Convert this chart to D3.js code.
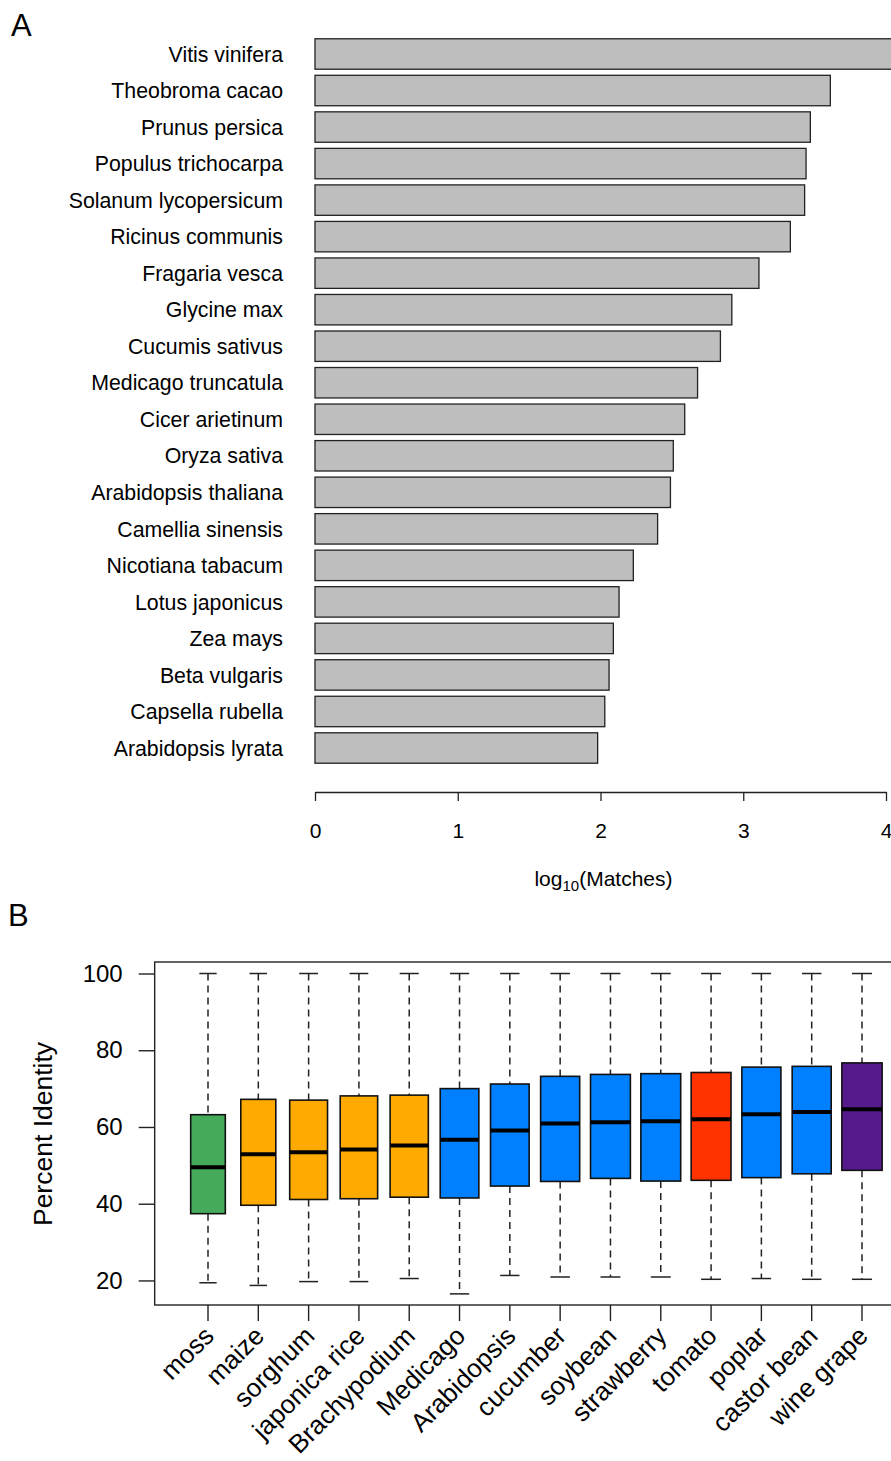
<!DOCTYPE html>
<html>
<head>
<meta charset="utf-8">
<script src="https://cdn.jsdelivr.net/npm/d3@7"></script>
<style>
  body { margin: 0; background: #fff; }
  text { font-family: "Liberation Sans", Arial, sans-serif; fill: #000; }
</style>
</head>
<body>
<div id="chart"></div>
<script>
// ---- panel A data: log10 of matches per species
const species = ["Vitis vinifera", "Theobroma cacao", "Prunus persica", "Populus trichocarpa",
  "Solanum lycopersicum", "Ricinus communis", "Fragaria vesca", "Glycine max", "Cucumis sativus",
  "Medicago truncatula", "Cicer arietinum", "Oryza sativa", "Arabidopsis thaliana",
  "Camellia sinensis", "Nicotiana tabacum", "Lotus japonicus", "Zea mays", "Beta vulgaris",
  "Capsella rubella", "Arabidopsis lyrata"];
const logMatches = [4.15, 3.61, 3.47, 3.44, 3.43, 3.33, 3.11, 2.92, 2.84, 2.68, 2.59, 2.51,
  2.49, 2.40, 2.23, 2.13, 2.09, 2.06, 2.03, 1.98];
const xTicksA = [0, 1, 2, 3, 4];

// ---- panel B data: percent identity boxplot stats
const plants = ["moss", "maize", "sorghum", "japonica rice", "Brachypodium", "Medicago",
  "Arabidopsis", "cucumber", "soybean", "strawberry", "tomato", "poplar", "castor bean", "wine grape"];
const groups = ["moss", "monocot", "monocot", "monocot", "monocot", "dicot", "dicot", "dicot",
  "dicot", "dicot", "tomato", "dicot", "dicot", "grape"];
const whiskerLow = [19.4, 18.7, 19.7, 19.7, 20.5, 16.5, 21.3, 20.9, 20.9, 20.9, 20.3, 20.5, 20.3, 20.3];
const q1 = [37.4, 39.6, 41.1, 41.3, 41.7, 41.5, 44.6, 45.8, 46.6, 45.9, 46.1, 46.8, 47.8, 48.7];
const median = [49.5, 52.9, 53.4, 54.1, 55.2, 56.7, 59.1, 60.9, 61.2, 61.5, 62.0, 63.3, 63.9, 64.6];
const q3 = [63.2, 67.2, 67.0, 68.1, 68.3, 70.0, 71.2, 73.2, 73.7, 73.9, 74.2, 75.6, 75.8, 76.7];
const whiskerHigh = [100, 100, 100, 100, 100, 100, 100, 100, 100, 100, 100, 100, 100, 100];
const relWidth = [0.86, 0.87, 0.94, 0.93, 0.95, 0.96, 0.96, 0.97, 0.99, 0.99, 0.99, 0.97, 0.97, 1.0];
const yTicksB = [20, 40, 60, 80, 100];

const groupColor = {
  moss: "#45aa5a", monocot: "#ffaa00", dicot: "#0080ff", tomato: "#ff3300", grape: "#551a8b"
};

const W = 891, H = 1461;
const svg = d3.select("#chart").append("svg")
  .attr("width", W).attr("height", H);

// ================= Panel A =================
const xA = d3.scaleLinear().domain([0, 4]).range([315, 886]);
const yA = d3.scalePoint().domain(species).range([54, 748]);
const barH = yA.step() / 1.2;

svg.append("text").attr("x", 11).attr("y", 36)
  .style("font-size", "31px").text("A");

const gA = svg.append("g");
gA.selectAll("rect.bar")
  .data(species)
  .join("rect")
  .attr("class", "bar")
  .attr("x", xA(0))
  .attr("y", d => yA(d) - barH / 2)
  .attr("width", (d, i) => xA(logMatches[i]) - xA(0))
  .attr("height", barH)
  .attr("fill", "#bebebe")
  .attr("stroke", "#222")
  .attr("stroke-width", 1.3);

gA.selectAll("text.sp")
  .data(species)
  .join("text")
  .attr("class", "sp")
  .attr("x", 283)
  .attr("y", d => yA(d))
  .attr("dy", "0.36em")
  .attr("text-anchor", "end")
  .style("font-size", "21.3px")
  .text(d => d);

const axA = gA.append("g")
  .attr("transform", "translate(0,792)")
  .call(d3.axisBottom(xA).tickValues(xTicksA).tickFormat(d3.format("d"))
    .tickSize(9).tickPadding(22).tickSizeOuter(0));
axA.select(".domain").attr("stroke", "#222").attr("stroke-width", 1.3);
axA.selectAll(".tick line").attr("stroke", "#222").attr("stroke-width", 1.3);
axA.selectAll(".tick text").style("font-size", "21px")
  .style("font-family", "Liberation Sans, Arial, sans-serif");

const titleA = gA.append("text")
  .attr("x", (xA(0) + xA(4)) / 2 + 3)
  .attr("y", 886)
  .attr("text-anchor", "middle")
  .style("font-size", "21px");
titleA.append("tspan").text("log");
titleA.append("tspan").attr("dy", 5).style("font-size", "15px").text("10");
titleA.append("tspan").attr("dy", -5).text("(Matches)");

// ================= Panel B =================
const xB = d3.scaleLinear().domain([1, plants.length]).range([208, 862]);
const yB = d3.scaleLinear().domain([13.6, 103]).range([1305, 962]);
const unit = xB(2) - xB(1);
const boxW = unit * 0.8;

svg.append("text").attr("x", 8).attr("y", 926)
  .style("font-size", "31px").text("B");

const gB = svg.append("g");

// frame (R box), right side runs off the page
gB.append("rect")
  .attr("x", xB(-0.06)).attr("y", yB(103))
  .attr("width", xB(plants.length + 1.06) - xB(-0.06))
  .attr("height", yB(13.6) - yB(103))
  .attr("fill", "none").attr("stroke", "#222").attr("stroke-width", 1.4);

const boxes = gB.selectAll("g.box")
  .data(plants)
  .join("g")
  .attr("class", "box")
  .attr("transform", (d, i) => `translate(${xB(i + 1)},0)`);

// whiskers
boxes.append("line")
  .attr("y1", (d, i) => yB(whiskerHigh[i])).attr("y2", (d, i) => yB(q3[i]))
  .attr("stroke", "#222").attr("stroke-width", 1.5).attr("stroke-dasharray", "7,5");
boxes.append("line")
  .attr("y1", (d, i) => yB(q1[i])).attr("y2", (d, i) => yB(whiskerLow[i]))
  .attr("stroke", "#222").attr("stroke-width", 1.5).attr("stroke-dasharray", "7,5");
// caps
boxes.append("line")
  .attr("x1", (d, i) => -boxW * relWidth[i] / 4).attr("x2", (d, i) => boxW * relWidth[i] / 4)
  .attr("y1", (d, i) => yB(whiskerHigh[i])).attr("y2", (d, i) => yB(whiskerHigh[i]))
  .attr("stroke", "#222").attr("stroke-width", 1.5);
boxes.append("line")
  .attr("x1", (d, i) => -boxW * relWidth[i] / 4).attr("x2", (d, i) => boxW * relWidth[i] / 4)
  .attr("y1", (d, i) => yB(whiskerLow[i])).attr("y2", (d, i) => yB(whiskerLow[i]))
  .attr("stroke", "#222").attr("stroke-width", 1.5);
// box
boxes.append("rect")
  .attr("x", (d, i) => -boxW * relWidth[i] / 2)
  .attr("width", (d, i) => boxW * relWidth[i])
  .attr("y", (d, i) => yB(q3[i]))
  .attr("height", (d, i) => yB(q1[i]) - yB(q3[i]))
  .attr("fill", (d, i) => groupColor[groups[i]])
  .attr("stroke", "#111").attr("stroke-width", 1.6);
// median
boxes.append("line")
  .attr("x1", (d, i) => -boxW * relWidth[i] / 2).attr("x2", (d, i) => boxW * relWidth[i] / 2)
  .attr("y1", (d, i) => yB(median[i])).attr("y2", (d, i) => yB(median[i]))
  .attr("stroke", "#000").attr("stroke-width", 4);

// y axis
const axB = gB.append("g")
  .attr("transform", `translate(${xB(-0.06)},0)`)
  .call(d3.axisLeft(yB).tickValues(yTicksB).tickSize(16).tickPadding(16).tickSizeOuter(0));
axB.select(".domain").remove();
axB.selectAll(".tick line").attr("stroke", "#222").attr("stroke-width", 1.4);
axB.selectAll(".tick text").style("font-size", "24px")
  .style("font-family", "Liberation Sans, Arial, sans-serif");

gB.append("text")
  .attr("transform", `translate(52,${yB(60) + 7}) rotate(-90)`)
  .attr("text-anchor", "middle")
  .style("font-size", "26.5px")
  .text("Percent Identity");

// x ticks + rotated labels
boxes.append("line")
  .attr("y1", yB(13.6)).attr("y2", yB(13.6) + 16)
  .attr("stroke", "#222").attr("stroke-width", 1.4);
boxes.append("text")
  .attr("transform", `translate(1,${yB(13.6) + 26}) rotate(-45)`)
  .attr("text-anchor", "end")
  .attr("dy", "0.35em")
  .style("font-size", "26px")
  .text(d => d);
</script>
</body>
</html>
